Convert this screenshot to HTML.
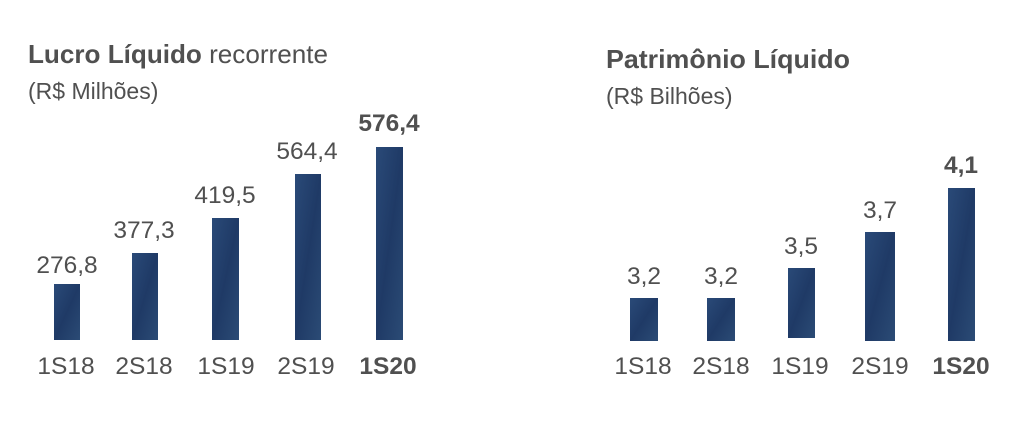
<!DOCTYPE html>
<html><head><meta charset="utf-8"><style>
body{margin:0;width:1024px;height:416px;background:#fff;overflow:hidden;font-family:"Liberation Sans",sans-serif;color:#505050}
svg text{font-family:"Liberation Sans",sans-serif;fill:#505050}
</style></head><body>
<svg width="1024" height="416" viewBox="0 0 1024 416">
<defs><linearGradient id="g" x1="0" y1="0" x2="1" y2="1"><stop offset="0" stop-color="#2a4a78"/><stop offset="0.5" stop-color="#1f3a66"/><stop offset="1" stop-color="#2b4b75"/></linearGradient></defs>
<text x="28" y="63" font-size="26" font-weight="bold" textLength="300" lengthAdjust="spacingAndGlyphs">Lucro Líquido <tspan font-weight="normal">recorrente</tspan></text>
<text x="28" y="99" font-size="23">(R$ Milhões)</text>
<text x="606" y="68" font-size="26" font-weight="bold" textLength="244" lengthAdjust="spacingAndGlyphs">Patrimônio Líquido</text>
<text x="606" y="104" font-size="23">(R$ Bilhões)</text>
<g fill="url(#g)">
<rect x="54" y="284" width="26" height="56"/>
<rect x="132" y="253" width="26" height="87"/>
<rect x="212" y="218" width="27" height="122"/>
<rect x="295" y="174" width="26" height="166"/>
<rect x="376" y="147" width="27" height="193"/>
<rect x="630" y="298" width="28" height="43"/>
<rect x="707" y="298" width="28" height="43"/>
<rect x="788" y="268" width="27" height="70"/>
<rect x="865" y="232" width="30" height="109"/>
<rect x="948" y="188" width="27" height="153"/>
</g>
<g font-size="24.5" text-anchor="middle">
<text x="67" y="273">276,8</text>
<text x="144" y="238">377,3</text>
<text x="225" y="203">419,5</text>
<text x="307" y="159">564,4</text>
<text x="389" y="131" font-weight="bold">576,4</text>
<text x="644" y="284">3,2</text>
<text x="721" y="284">3,2</text>
<text x="801" y="254">3,5</text>
<text x="880" y="218">3,7</text>
<text x="961" y="173" font-weight="bold">4,1</text>
<text x="66" y="374">1S18</text>
<text x="144" y="374">2S18</text>
<text x="226" y="374">1S19</text>
<text x="306" y="374">2S19</text>
<text x="388" y="374" font-weight="bold">1S20</text>
<text x="643" y="374">1S18</text>
<text x="721" y="374">2S18</text>
<text x="800" y="374">1S19</text>
<text x="880" y="374">2S19</text>
<text x="961" y="374" font-weight="bold">1S20</text>
</g>
</svg>
</body></html>
